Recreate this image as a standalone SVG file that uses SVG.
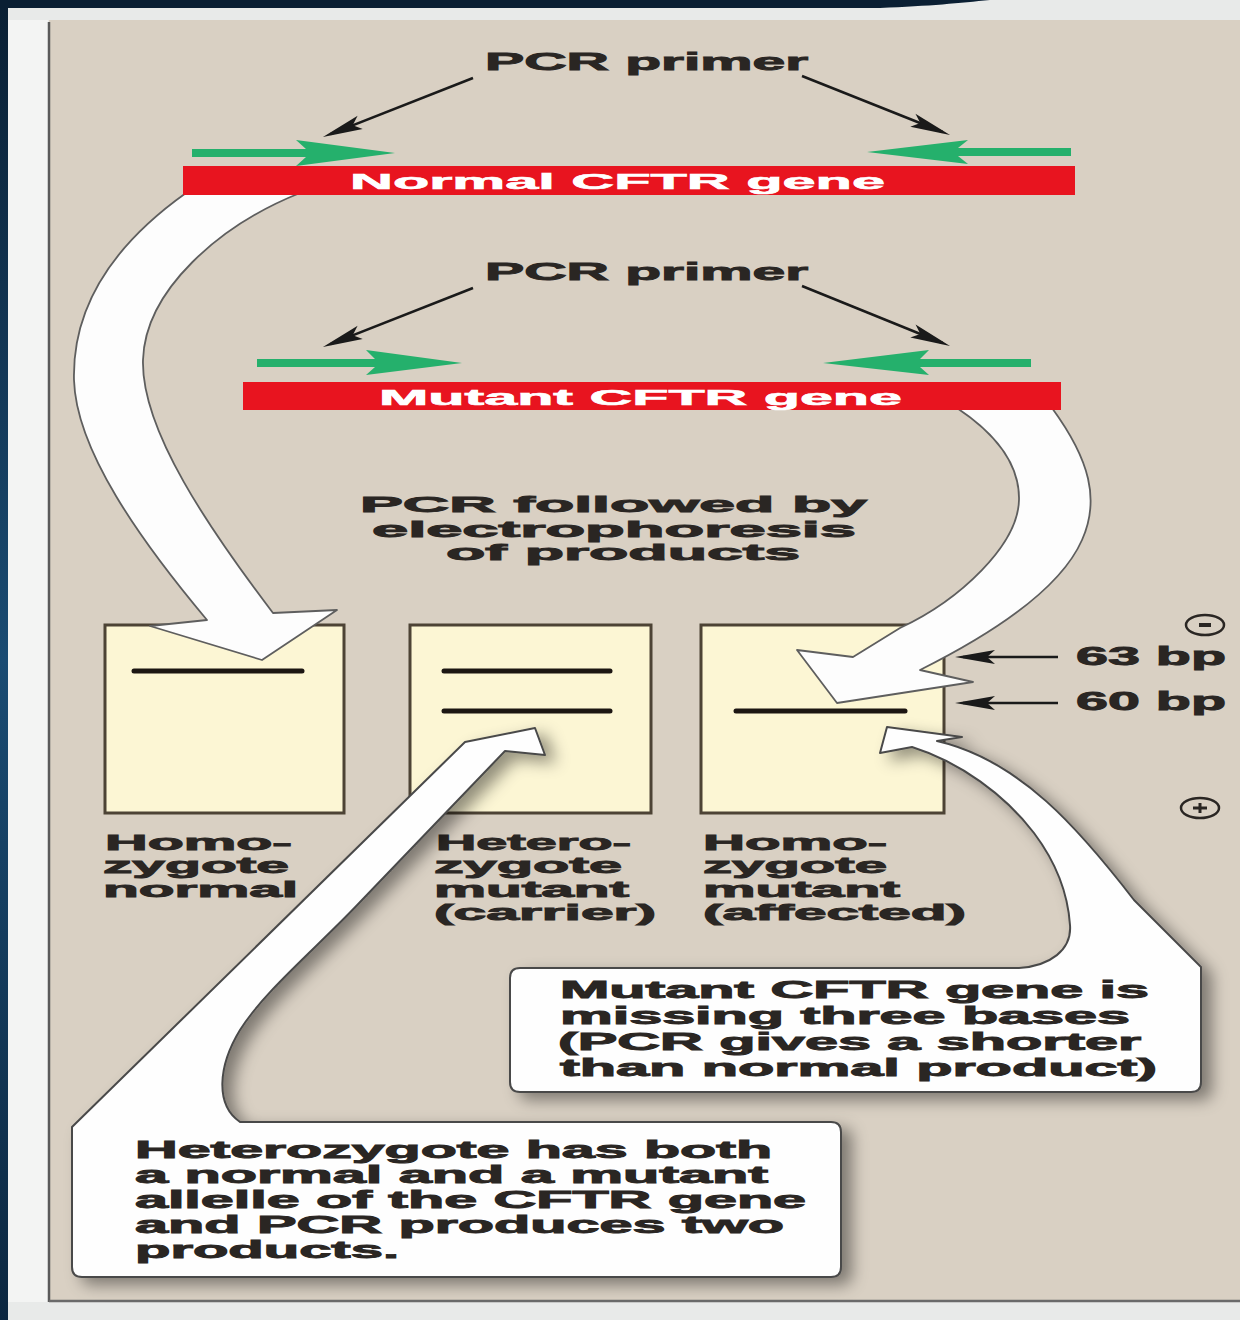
<svg xmlns="http://www.w3.org/2000/svg" width="1240" height="1320" viewBox="0 0 1240 1320">
<defs>
<linearGradient id="navy" x1="0" y1="0" x2="0" y2="1">
<stop offset="0" stop-color="#0a1f33"/>
<stop offset="0.5" stop-color="#1a4b72"/>
<stop offset="1" stop-color="#0c2740"/>
</linearGradient>
<filter id="shadow" x="-20%" y="-20%" width="150%" height="150%">
<feDropShadow dx="10" dy="7" stdDeviation="8" flood-color="#000" flood-opacity="0.42"/>
</filter>
<marker id="ah" markerUnits="userSpaceOnUse" viewBox="-34 -8 44 16" markerWidth="44" markerHeight="16" refX="0" refY="0" orient="auto">
<path d="M8,0 L-32,-7 L-24,0 L-32,7 Z" fill="#1a1a1a"/>
</marker>
<style>
.t{font-family:"Liberation Sans",Arial,Helvetica,sans-serif;font-weight:bold;fill:#2a2623;stroke:#2a2623;stroke-width:0.9}
.w{font-family:"Liberation Sans",Arial,Helvetica,sans-serif;font-weight:bold;fill:#ffffff;stroke:#ffffff;stroke-width:0.6}
.gel{fill:#fcf6d4;stroke:#4d4335;stroke-width:3}
.band{stroke:#1c1612;stroke-width:5;stroke-linecap:round}
.bar{fill:#e8141f}
.prim{fill:#25b06c}
.pl{stroke:#1a1a1a;stroke-width:2.5;fill:none;marker-end:url(#ah)}
.big{fill:#fdfdfd;stroke:#5e5e5e;stroke-width:1.8;stroke-linejoin:round}
.call{fill:#fefefe;stroke:#4a4a4a;stroke-width:2;stroke-linejoin:round;filter:url(#shadow)}
.sym{fill:none;stroke:#2a2623;stroke-width:2.5}
</style>
</defs>

<g id="frame">
<rect x="0" y="0" width="1240" height="1320" fill="#e8eae9"/>
<rect x="8" y="20" width="40" height="1282" fill="#f3f4f3"/>
<rect x="49" y="20" width="1191" height="1282" fill="#d9d0c3"/>
<line x1="49" y1="22" x2="49" y2="1302" stroke="#5a5a5a" stroke-width="2.5"/>
<line x1="49" y1="1301" x2="1240" y2="1301" stroke="#6a6a6a" stroke-width="2.5"/>
<rect x="0" y="0" width="8" height="1320" fill="url(#navy)"/>
<path d="M0,0 L990,0 C960,3 930,6 880,8 L0,8 Z" fill="#0a1f33"/>
</g>

<g id="gels">
<g id="gel-normal">
<rect class="gel" x="105" y="625" width="239" height="188"/>
<line class="band" x1="134" y1="671" x2="302" y2="671"/>
</g>
<g id="gel-carrier">
<rect class="gel" x="410" y="625" width="241" height="188"/>
<line class="band" x1="444" y1="671" x2="610" y2="671"/>
<line class="band" x1="444" y1="711" x2="610" y2="711"/>
</g>
<g id="gel-affected">
<rect class="gel" x="701" y="625" width="243" height="188"/>
<line class="band" x1="736" y1="711" x2="905" y2="711"/>
</g>
</g>

<g id="connectors">
<path id="arrow-normal" class="big" d="M186,193 C120,240 72,300 74,380 C76,450 140,540 207,620 L150,626 L262,660 L337,610 L273,613 C210,530 141,430 143,360 C145,290 220,225 300,193 Z"/>
<path id="arrow-mutant" class="big" d="M957,408 C990,430 1020,460 1019,500 C1018,545 960,600 900,628 L853,657 L797,650 L837,703 L973,682 L920,670 C990,635 1060,590 1082,540 C1100,500 1090,460 1052,408 Z"/>
<line class="pl" x1="473" y1="78" x2="330.4" y2="134.1"/>
<line class="pl" x1="802" y1="76" x2="942.6" y2="132"/>
<line class="pl" x1="473" y1="288" x2="330.4" y2="344.1"/>
<line class="pl" x1="802" y1="286" x2="942.6" y2="343"/>
<line class="pl" x1="1058" y1="657" x2="963" y2="657"/>
<line class="pl" x1="1058" y1="703" x2="963" y2="703"/>
</g>

<g id="primer-label-1">
<text class="t" x="485" y="70" font-size="24" textLength="323" lengthAdjust="spacingAndGlyphs">PCR primer</text>
</g>
<g id="gene-normal">
<polygon class="prim" points="192,149 306,149 296,140 395,153 296,166 306,157 192,157"/>
<polygon class="prim" points="1071,148 958,148 968,140 867,152 968,164 958,156 1071,156"/>
<rect class="bar" x="183" y="166" width="892" height="29"/>
<text class="w" x="350" y="189" font-size="22" textLength="535" lengthAdjust="spacingAndGlyphs">Normal CFTR gene</text>
</g>
<g id="primer-label-2">
<text class="t" x="485" y="280" font-size="24" textLength="323" lengthAdjust="spacingAndGlyphs">PCR primer</text>
</g>
<g id="gene-mutant">
<polygon class="prim" points="257,359 375,359 366,350 462,363 366,375 375,367 257,367"/>
<polygon class="prim" points="1031,359 920,359 929,350 823,363 929,375 920,367 1031,367"/>
<rect class="bar" x="243" y="382" width="818" height="28"/>
<text class="w" x="379" y="405" font-size="22" textLength="523" lengthAdjust="spacingAndGlyphs">Mutant CFTR gene</text>
</g>

<g id="step-label">
<text class="t" x="360" y="512" font-size="22" textLength="507" lengthAdjust="spacingAndGlyphs">PCR followed by</text>
<text class="t" x="372" y="537" font-size="22" textLength="484" lengthAdjust="spacingAndGlyphs">electrophoresis</text>
<text class="t" x="446" y="560" font-size="22" textLength="354" lengthAdjust="spacingAndGlyphs">of products</text>
</g>

<g id="label-normal">
<text class="t" x="105" y="850" font-size="22" textLength="187" lengthAdjust="spacingAndGlyphs">Homo-</text>
<text class="t" x="103" y="873" font-size="22" textLength="186" lengthAdjust="spacingAndGlyphs">zygote</text>
<text class="t" x="103" y="897" font-size="22" textLength="195" lengthAdjust="spacingAndGlyphs">normal</text>
</g>
<g id="label-carrier">
<text class="t" x="436" y="850" font-size="22" textLength="195" lengthAdjust="spacingAndGlyphs">Hetero-</text>
<text class="t" x="434" y="873" font-size="22" textLength="188" lengthAdjust="spacingAndGlyphs">zygote</text>
<text class="t" x="434" y="897" font-size="22" textLength="195" lengthAdjust="spacingAndGlyphs">mutant</text>
<text class="t" x="434" y="920" font-size="22" textLength="222" lengthAdjust="spacingAndGlyphs">(carrier)</text>
</g>
<g id="label-affected">
<text class="t" x="703" y="850" font-size="22" textLength="184" lengthAdjust="spacingAndGlyphs">Homo-</text>
<text class="t" x="703" y="873" font-size="22" textLength="184" lengthAdjust="spacingAndGlyphs">zygote</text>
<text class="t" x="703" y="897" font-size="22" textLength="197" lengthAdjust="spacingAndGlyphs">mutant</text>
<text class="t" x="703" y="920" font-size="22" textLength="263" lengthAdjust="spacingAndGlyphs">(affected)</text>
</g>

<g id="size-markers">
<text class="t" x="1076" y="665" font-size="25" textLength="150" lengthAdjust="spacingAndGlyphs">63 bp</text>
<text class="t" x="1076" y="710" font-size="25" textLength="150" lengthAdjust="spacingAndGlyphs">60 bp</text>
</g>
<g id="electrodes">
<ellipse class="sym" cx="1205" cy="625" rx="19" ry="10"/>
<line x1="1199" y1="625" x2="1211" y2="625" stroke="#2a2623" stroke-width="4"/>
<ellipse class="sym" cx="1200" cy="808" rx="19" ry="10"/>
<line x1="1193" y1="808" x2="1207" y2="808" stroke="#2a2623" stroke-width="3"/>
<line x1="1200" y1="803" x2="1200" y2="813" stroke="#2a2623" stroke-width="3"/>
</g>

<g id="callout-mutant">
<path class="call" d="M520,968 L1019,968 C1050,966 1072,950 1070,925 C1068,895 1058,865 1034,833 C1005,795 960,762 912,747 L880,753 L887,727 L962,737 L937,741 C1020,760 1080,830 1134,900 L1201,967 L1201,1082 Q1201,1092 1191,1092 L520,1092 Q510,1092 510,1082 L510,978 Q510,968 520,968 Z"/>
<text class="t" x="560" y="998" font-size="23" textLength="589" lengthAdjust="spacingAndGlyphs">Mutant CFTR gene is</text>
<text class="t" x="560" y="1024" font-size="23" textLength="570" lengthAdjust="spacingAndGlyphs">missing three bases</text>
<text class="t" x="558" y="1050" font-size="23" textLength="583" lengthAdjust="spacingAndGlyphs">(PCR gives a shorter</text>
<text class="t" x="560" y="1076" font-size="23" textLength="597" lengthAdjust="spacingAndGlyphs">than normal product)</text>
</g>

<g id="callout-hetero">
<path class="call" d="M72,1267 L72,1127 L465,742 L535,728 L545,755 L505,751 L362,900 C320,945 265,990 240,1030 C218,1066 215,1105 240,1122 L831,1122 Q841,1122 841,1132 L841,1267 Q841,1277 831,1277 L82,1277 Q72,1277 72,1267 Z"/>
<text class="t" x="135" y="1158" font-size="23" textLength="637" lengthAdjust="spacingAndGlyphs">Heterozygote has both</text>
<text class="t" x="135" y="1183" font-size="23" textLength="633" lengthAdjust="spacingAndGlyphs">a normal and a mutant</text>
<text class="t" x="135" y="1208" font-size="23" textLength="671" lengthAdjust="spacingAndGlyphs">allelle of the CFTR gene</text>
<text class="t" x="135" y="1233" font-size="23" textLength="649" lengthAdjust="spacingAndGlyphs">and PCR produces two</text>
<text class="t" x="135" y="1258" font-size="23" textLength="264" lengthAdjust="spacingAndGlyphs">products.</text>
</g>
</svg>
